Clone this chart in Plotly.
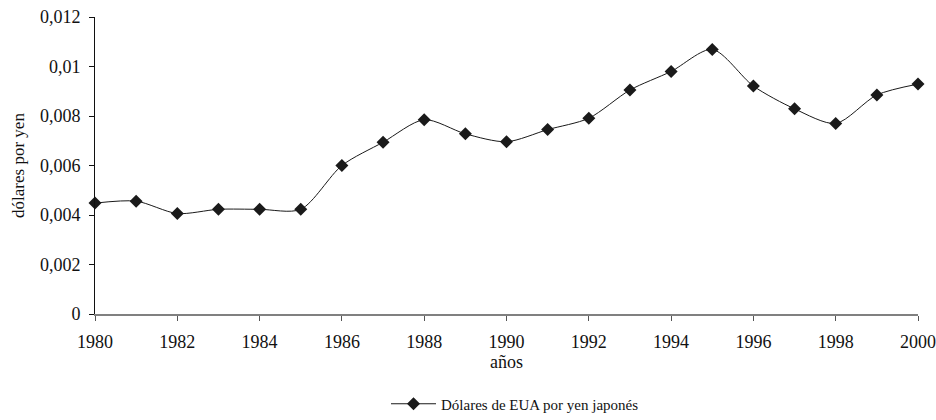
import plotly.graph_objects as go

years = list(range(1980, 2001))
usd_per_yen = [0.00448, 0.00456, 0.00406, 0.00423, 0.00423, 0.00423, 0.00600,
               0.00694, 0.00785, 0.00728, 0.00696, 0.00745, 0.00791, 0.00905,
               0.00980, 0.01069, 0.00921, 0.00829, 0.00770, 0.00885, 0.00929]
y_tickvals = [0, 0.002, 0.004, 0.006, 0.008, 0.01, 0.012]
y_ticktext = ["0", "0,002", "0,004", "0,006", "0,008", "0,01", "0,012"]
x_tickvals = list(range(1980, 2001, 2))

font = "Liberation Serif"
W, H = 936, 420

fig = go.Figure()
fig.add_trace(go.Scatter(
    x=years, y=usd_per_yen, mode="lines+markers",
    name="Dólares de EUA por yen japonés",
    line=dict(color="#1a1a1a", width=1, shape="spline", smoothing=0.8),
    marker=dict(symbol="diamond", size=10, color="#1a1a1a"),
    cliponaxis=False,
))

fig.update_layout(
    width=W, height=H,
    margin=dict(l=95, r=18, t=17, b=106, autoexpand=False),
    paper_bgcolor="white", plot_bgcolor="white",
    font=dict(family=font, size=18, color="#111"),
    showlegend=True,
    legend=dict(orientation="h", x=515 / W, xref="container", xanchor="center",
                y=1 - 404 / H, yref="container", yanchor="middle",
                itemwidth=45, font=dict(size=15, family=font)),
)
fig.update_xaxes(
    range=[1980, 2000], tickvals=x_tickvals, ticks="outside", ticklen=5,
    tickcolor="#555", showline=True, linecolor="#808080", linewidth=1.5,
    showgrid=False, zeroline=False, automargin=False, ticklabelstandoff=6,
    ticklabeloverflow="allow",
    title=dict(text="años", font=dict(size=18), standoff=4),
)
fig.update_yaxes(
    range=[0, 0.012], tickvals=y_tickvals, ticktext=y_ticktext, ticks="outside",
    ticklen=5, tickcolor="#111", showline=True, linecolor="#111", linewidth=1,
    showgrid=False, zeroline=False, automargin=False, ticklabelstandoff=5,
    ticklabeloverflow="allow",
    title=dict(text="dólares por yen", font=dict(size=17), standoff=10),
)

fig.write_html("out.html", config={"displayModeBar": False},
               post_script="document.body.style.margin='0';document.body.style.overflow='hidden';")
